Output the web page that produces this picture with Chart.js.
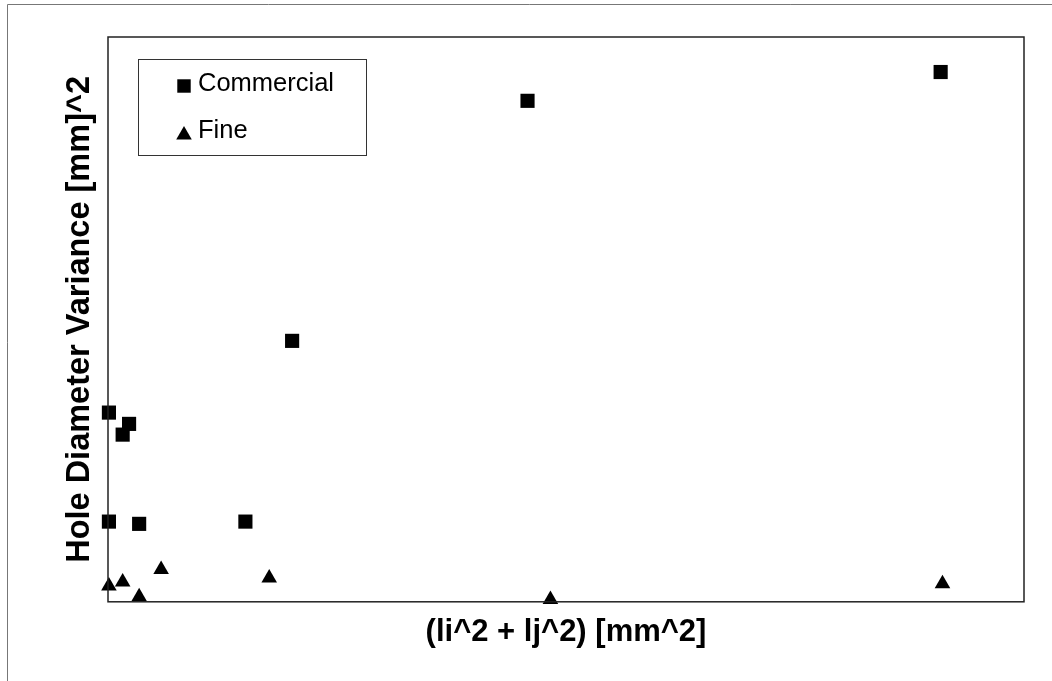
<!DOCTYPE html>
<html>
<head>
<meta charset="utf-8">
<script src="https://cdn.jsdelivr.net/npm/chart.js@4"></script>
<style>
  html, body { margin: 0; padding: 0; background: #fff; }
  #wrap { width: 1052px; height: 681px; }
</style>
</head>
<body>
<div id="wrap"><canvas id="chart" width="1052" height="681"></canvas></div>
<script>
// Series values (axes carry no tick labels, so units are relative 0..100)
const seriesNames = ["Commercial", "Fine"];
const commercialX = [0.1, 1.6, 2.3, 0.1, 3.4, 15.0, 20.1, 45.8, 90.9];
const commercialY = [33.5, 29.6, 31.5, 14.2, 13.8, 14.2, 46.2, 88.7, 93.8];
const fineX = [0.1, 1.6, 3.4, 5.8, 17.6, 48.3, 91.1];
const fineY = [2.8, 3.5, 0.9, 5.7, 4.2, 0.4, 3.2];
const xTitle = "(li^2 + lj^2) [mm^2]";
const yTitle = "Hole Diameter Variance [mm]^2";

const toPoints = (xs, ys) => xs.map((x, i) => ({x: x, y: ys[i]}));

// Frame around the whole figure and a box around the plot area
const framePlugin = {
    id: "frame",
    beforeDraw(chart) {
        const ctx = chart.ctx;
        ctx.save();
        ctx.strokeStyle = "#777";
        ctx.lineWidth = 1;
        ctx.beginPath();
        ctx.moveTo(7.5, 681);
        ctx.lineTo(7.5, 4.5);
        ctx.lineTo(1052, 4.5);
        ctx.stroke();
        ctx.restore();
    },
    afterDatasetsDraw(chart) {
        const {left, top, right, bottom} = chart.chartArea;
        const ctx = chart.ctx;
        ctx.save();
        ctx.strokeStyle = "#222";
        ctx.lineWidth = 1.5;
        ctx.strokeRect(left, top, right - left, bottom - top);
        ctx.restore();
    }
};

// Boxed legend sitting inside the plot area, upper left
const boxLegend = {
    id: "boxLegend",
    afterDraw(chart) {
        const ctx = chart.ctx;
        const x0 = 138, y0 = 59, w = 228, h = 96;
        ctx.save();
        ctx.fillStyle = "#fff";
        ctx.fillRect(x0, y0, w, h);
        ctx.strokeStyle = "#333";
        ctx.lineWidth = 1;
        ctx.strokeRect(x0 + 0.5, y0 + 0.5, w, h);
        ctx.font = "25.5px 'Liberation Sans', Arial, sans-serif";
        ctx.textBaseline = "middle";
        ctx.fillStyle = "#000";
        chart.data.datasets.forEach((ds, i) => {
            const cy = 83 + i * 47;
            const isRect = ds.pointStyle === "rect";
            Chart.helpers.drawPoint(ctx, {
                pointStyle: ds.pointStyle,
                radius: isRect ? 9.5 : 9,
                rotation: 0,
                borderWidth: 0
            }, 184, isRect ? cy + 3 : cy + 5);
            ctx.fillStyle = "#000";
            ctx.fillText(ds.label, 198, cy + 1);
        });
        ctx.restore();
    }
};

const config = {
    type: "scatter",
    data: {
        datasets: [
            {
                label: seriesNames[0],
                data: toPoints(commercialX, commercialY),
                pointStyle: "rect",
                pointRadius: 10,
                pointHoverRadius: 10,
                backgroundColor: "#000",
                borderColor: "#000",
                borderWidth: 0,
                clip: false
            },
            {
                label: seriesNames[1],
                data: toPoints(fineX, fineY),
                pointStyle: "triangle",
                pointRadius: 9,
                pointHoverRadius: 9,
                backgroundColor: "#000",
                borderColor: "#000",
                borderWidth: 0,
                clip: false
            }
        ]
    },
    options: {
        responsive: false,
        animation: false,
        layout: {padding: {left: 53, top: 37, right: 28, bottom: 19}},
        plugins: {
            legend: {display: false},
            tooltip: {enabled: false}
        },
        scales: {
            x: {
                type: "linear",
                min: 0,
                max: 100,
                grid: {display: false},
                border: {display: false},
                ticks: {display: false},
                title: {
                    display: true,
                    text: xTitle,
                    color: "#000",
                    font: {family: "'Liberation Sans', Arial, sans-serif", size: 31, weight: "bold", lineHeight: 1.2},
                    padding: {top: 4, bottom: 11}
                }
            },
            y: {
                type: "linear",
                min: 0,
                max: 100,
                grid: {display: false},
                border: {display: false},
                ticks: {display: false},
                title: {
                    display: true,
                    text: yTitle,
                    color: "#000",
                    font: {family: "'Liberation Sans', Arial, sans-serif", size: 32.5, weight: "bold", lineHeight: 1.2},
                    padding: {top: 8, bottom: 0}
                }
            }
        }
    },
    plugins: [framePlugin, boxLegend]
};

new Chart(document.getElementById("chart"), config);
</script>
</body>
</html>
